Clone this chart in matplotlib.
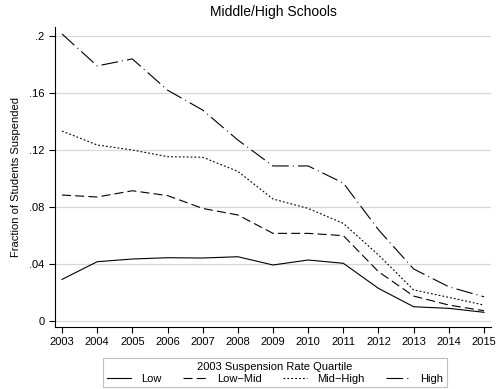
import matplotlib
matplotlib.use('Agg')
import matplotlib.pyplot as plt

plt.rcParams['font.family'] = ['Liberation Sans', 'DejaVu Sans']
plt.rcParams['lines.scale_dashes'] = False

# suspension fraction by 2003 quartile, middle/high schools
years = [2003, 2004, 2005, 2006, 2007, 2008, 2009, 2010, 2011, 2012, 2013, 2014, 2015]
low = [0.0292, 0.0416, 0.0435, 0.0444, 0.0442, 0.0451, 0.0393, 0.0428, 0.0405, 0.0229, 0.0100, 0.0089, 0.0061]
low_mid = [0.0884, 0.0870, 0.0914, 0.0880, 0.0790, 0.0744, 0.0615, 0.0615, 0.0599, 0.0346, 0.0175, 0.0112, 0.0072]
mid_high = [0.1333, 0.1235, 0.1200, 0.1153, 0.1149, 0.1050, 0.0856, 0.0790, 0.0685, 0.0463, 0.0218, 0.0166, 0.0112]
high = [0.2014, 0.1790, 0.1839, 0.1620, 0.1480, 0.1270, 0.1088, 0.1088, 0.0968, 0.0640, 0.0365, 0.0240, 0.0170]
yticks = [0, 0.04, 0.08, 0.12, 0.16, 0.2]
yticklabels = ['0', '.04', '.08', '.12', '.16', '.2']

fig = plt.figure(figsize=(4.98, 3.89), dpi=100)
ax = fig.add_axes([0.1104, 0.1594, 0.8756, 0.7712])

lw = 0.8
ax.plot(years, low, color='black', lw=lw, label='Low')
ax.plot(years, low_mid, color='black', lw=lw, linestyle=(0, (6.5, 3)), label='Low\u2212Mid')
ax.plot(years, mid_high, color='black', lw=lw, linestyle=(0, (1.3, 1.5)), label='Mid\u2212High')
ax.plot(years, high, color='black', lw=lw, linestyle=(0, (12, 3, 0.7, 3)), label='High')

ax.set_xlim(2002.8, 2015.2)
ax.set_ylim(-0.0042, 0.2063)
ax.set_xticks(years)
ax.set_yticks(yticks)
ax.set_yticklabels(yticklabels)
ax.tick_params(labelsize=8, length=4, width=0.8, direction='out')
ax.grid(axis='y', color='#d8d8d8', lw=0.9)
ax.set_axisbelow(True)
for s in ['top', 'right']:
    ax.spines[s].set_visible(False)
ax.spines['left'].set_linewidth(0.8)
ax.spines['bottom'].set_linewidth(0.8)

ax.set_ylabel('Fraction of Students Suspended', fontsize=8, labelpad=6)
ax.set_title('Middle/High Schools', fontsize=10, pad=8)

leg = fig.legend(loc='upper center', bbox_to_anchor=(0.552, 0.093), ncol=4,
                 title='2003 Suspension Rate Quartile', fontsize=8, title_fontsize=8,
                 frameon=True, fancybox=False, edgecolor='#b0b0b0', handlelength=2.2,
                 columnspacing=1.9, borderpad=0.3, labelspacing=0.2, handletextpad=0.9)
leg.get_frame().set_linewidth(0.8)

fig.savefig('out.png', dpi=100)
